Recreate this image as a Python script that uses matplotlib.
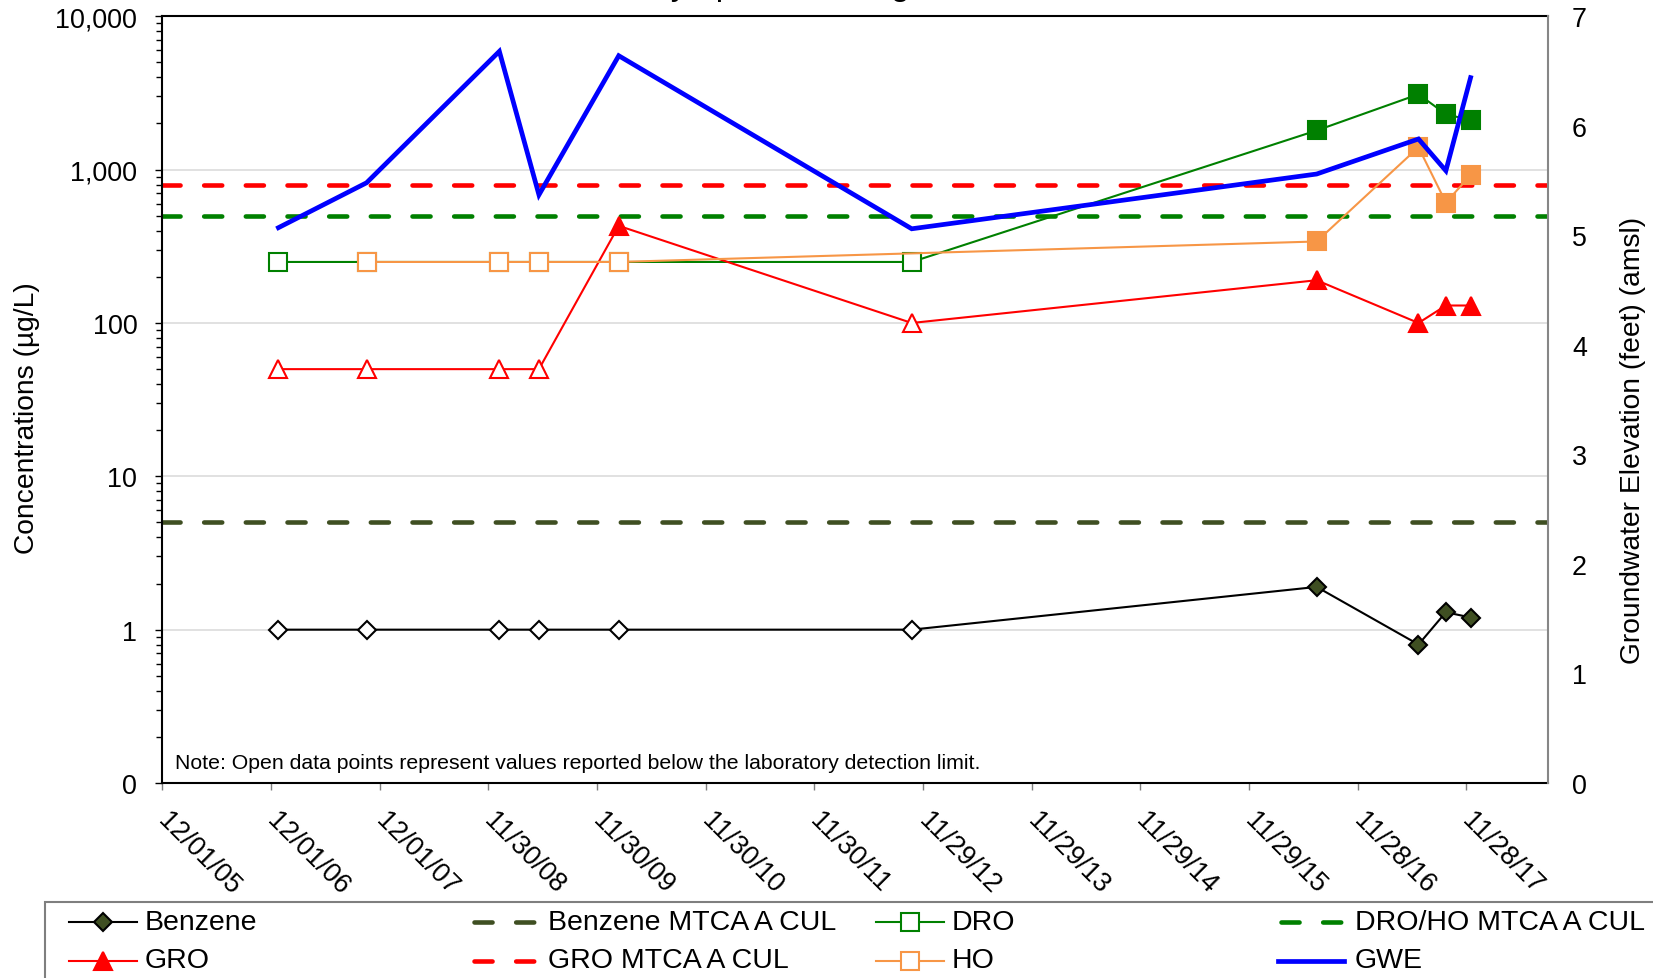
import numpy as np
import pandas as pd
import matplotlib
matplotlib.use('Agg')
import matplotlib.pyplot as plt
import matplotlib.dates as mdates
from matplotlib.lines import Line2D
from matplotlib.patches import Rectangle
from matplotlib.ticker import FixedLocator, FixedFormatter, LogLocator, NullFormatter

plt.rcParams['font.family'] = ['Liberation Sans', 'DejaVu Sans']
plt.rcParams['lines.scale_dashes'] = False

# ---------------- data ----------------
sample_dates = ['2006-12-26', '2007-10-18', '2009-01-06', '2009-05-19', '2010-02-11',
                '2012-10-22', '2016-07-13', '2017-06-20', '2017-09-20', '2017-12-12']
benzene = [1, 1, 1, 1, 1, 1, 1.9, 0.8, 1.3, 1.2]
benzene_nd = [True, True, True, True, True, True, False, False, False, False]
gro = [50, 50, 50, 50, 430, 100, 190, 100, 130, 130]
gro_nd = [True, True, True, True, False, True, False, False, False, False]
dro = [250, 250, 250, 250, 250, 250, 1800, 3100, 2300, 2100]
dro_nd = [True, True, True, True, True, True, False, False, False, False]
ho = [np.nan, 250, 250, 250, 250, np.nan, 340, 1400, 610, 920]
ho_nd = [False, True, True, True, True, False, False, False, False, False]
gwe = [5.07, 5.48, 6.68, 5.37, 6.64, 5.06, 5.56, 5.88, 5.59, 6.44]

benzene_cul = 5
gro_cul = 800
dro_ho_cul = 500

axis_start = '2005-12-01'
axis_days = 4655
tick_step_days = 365
n_ticks = 13

conc_ticks = [0.1, 1, 10, 100, 1000, 10000]
conc_labels = ['0', '1', '10', '100', '1,000', '10,000']
gwe_ticks = [0, 1, 2, 3, 4, 5, 6, 7]
gwe_labels = ['0', '1', '2', '3', '4', '5', '6', '7']

title_text = 'Olympia, Washington'
note_text = 'Note: Open data points represent values reported below the laboratory detection limit.'

# ---------------- colours ----------------
C_BENZ = '#3F4F22'
C_GREEN = '#008000'
C_RED = '#FF0000'
C_ORANGE = '#F79646'
C_BLUE = '#0000FF'

W, H = 1653, 979
fig = plt.figure(figsize=(W / 100, H / 100), dpi=100)
L, R, T, B = 162.3, 1548.3, 17.3, 784.0
ax = fig.add_axes([L / W, 1 - B / H, (R - L) / W, (B - T) / H])
ax2 = ax.twinx()

x = mdates.date2num(pd.to_datetime(sample_dates))
x0 = mdates.date2num(pd.Timestamp(axis_start))

FS_TICK = 19.4
FS_LAB = 20.3
FS_LEG = 20.5
DASH = (0, (13, 17))
CUL_LW = 3.3

# reference lines
for val, col in [(benzene_cul, C_BENZ), (dro_ho_cul, C_GREEN), (gro_cul, C_RED)]:
    ax.axhline(val, color=col, lw=CUL_LW, ls=DASH, dash_capstyle='round', zorder=2)


def series(axh, xv, yv, nd, color, marker, ms, face, edge, lw=1.5, mew=1.5, z=3):
    yv = np.asarray(yv, dtype=float)
    nd = np.asarray(nd, dtype=bool)
    m = ~np.isnan(yv)
    axh.plot(xv[m], yv[m], color=color, lw=lw, zorder=z)
    o = m & nd
    f = m & ~nd
    axh.plot(xv[o], yv[o], ls='none', marker=marker, ms=ms, mfc='white', mec=edge, mew=mew, zorder=z + 0.5)
    axh.plot(xv[f], yv[f], ls='none', marker=marker, ms=ms, mfc=face, mec=edge, mew=mew, zorder=z + 0.5)


series(ax, x, benzene, benzene_nd, 'black', 'D', 9, C_BENZ, 'black', z=3)
series(ax, x, dro, dro_nd, C_GREEN, 's', 12.5, C_GREEN, C_GREEN, z=4)
series(ax, x, gro, gro_nd, C_RED, '^', 12.5, C_RED, C_RED, z=5)
series(ax, x, ho, ho_nd, C_ORANGE, 's', 12.5, C_ORANGE, C_ORANGE, z=6)

ax2.plot(x, gwe, color=C_BLUE, lw=3.4, solid_joinstyle='miter', zorder=3)

# axes formatting
ax.set_yscale('log')
ax.set_ylim(conc_ticks[0], conc_ticks[-1])
ax.yaxis.set_major_locator(FixedLocator(conc_ticks))
ax.yaxis.set_major_formatter(FixedFormatter(conc_labels))
ax.yaxis.set_minor_locator(LogLocator(base=10, subs=np.arange(2, 10)))
ax.yaxis.set_minor_formatter(NullFormatter())
ax.set_xlim(x0, x0 + axis_days)
xt = [x0 + tick_step_days * k for k in range(n_ticks)]
ax.xaxis.set_major_locator(FixedLocator(xt))
ax.xaxis.set_major_formatter(mdates.DateFormatter('%m/%d/%y'))
ax.grid(axis='y', which='major', color='#D9D9D9', lw=1.1, zorder=0)
ax.set_axisbelow(True)

ax.tick_params(axis='y', which='major', direction='out', length=5, width=1, color='black',
               labelsize=FS_TICK, pad=13)
ax.tick_params(axis='y', which='minor', direction='out', length=4, width=1, color='black')
ax.tick_params(axis='x', which='major', direction='out', length=5, width=1, color='#7f7f7f',
               labelsize=FS_TICK, pad=19)
for lab in ax.get_xticklabels():
    lab.set_rotation(-45)
    lab.set_ha('left')
    lab.set_va('center')
    lab.set_rotation_mode('anchor')

ax2.set_ylim(gwe_ticks[0], gwe_ticks[-1])
ax2.yaxis.set_major_locator(FixedLocator(gwe_ticks))
ax2.yaxis.set_major_formatter(FixedFormatter(gwe_labels))
ax2.tick_params(axis='y', length=0, labelsize=FS_TICK, pad=17)

for s in ['top', 'bottom', 'left']:
    ax.spines[s].set_color('black')
    ax.spines[s].set_linewidth(1.5)
ax.spines['right'].set_visible(False)
for s in ['top', 'bottom', 'left']:
    ax2.spines[s].set_visible(False)
ax2.spines['right'].set_color('#868686')
ax2.spines['right'].set_linewidth(1.5)

# axis titles
fig.text(27 / W, 1 - 418 / H, 'Concentrations (µg/L)', rotation=90, ha='center', va='center',
         fontsize=FS_LAB)
fig.text(1633 / W, 1 - 440 / H, 'Groundwater Elevation (feet) (amsl)', rotation=90, ha='center',
         va='center', fontsize=FS_LAB)

# note
fig.text(175 / W, 1 - 769.3 / H, note_text, fontsize=15.35, ha='left', va='baseline')

# title (mostly cropped at the top edge: only descenders show)
fig.text(637 / W, 1 + 5 / H, title_text, fontsize=24.3, ha='left', va='baseline')

# ---------------- legend (manual layout) ----------------
fig.add_artist(Rectangle((45.3 / W, -0.2), 1.2, 0.2 + (1 - 903.3 / H), transform=fig.transFigure,
                         facecolor='white', edgecolor='#7f7f7f', lw=1.5, clip_on=False))

row_y = [923, 961.5]
col_x = [(68.5, 137, 144.4), (471, 538, 548), (876, 943.5, 952), (1277.7, 1344, 1354.6)]
entries = [
    (0, 0, 'Benzene', dict(color='black', lw=1.5), dict(marker='D', ms=9, mfc=C_BENZ, mec='black', mew=1.5)),
    (0, 1, 'Benzene MTCA A CUL', dict(color=C_BENZ, lw=CUL_LW, ls=DASH, dash_capstyle='round'), None),
    (0, 2, 'DRO', dict(color=C_GREEN, lw=1.5), dict(marker='s', ms=12.5, mfc='white', mec=C_GREEN, mew=1.5)),
    (0, 3, 'DRO/HO MTCA A CUL', dict(color=C_GREEN, lw=CUL_LW, ls=DASH, dash_capstyle='round'), None),
    (1, 0, 'GRO', dict(color=C_RED, lw=1.5), dict(marker='^', ms=12.5, mfc=C_RED, mec=C_RED, mew=1.5)),
    (1, 1, 'GRO MTCA A CUL', dict(color=C_RED, lw=CUL_LW, ls=DASH, dash_capstyle='round'), None),
    (1, 2, 'HO', dict(color=C_ORANGE, lw=1.5), dict(marker='s', ms=12.5, mfc='white', mec=C_ORANGE, mew=1.5)),
    (1, 3, 'GWE', dict(color=C_BLUE, lw=3.4), None),
]
for r, c, label, lkw, mkw in entries:
    xa, xb, xt_ = col_x[c]
    yy = 1 - row_y[r] / H
    if lkw.get('ls') is not None:
        xa_, xb_ = xa + 3, xb
    else:
        xa_, xb_ = xa, xb
    fig.add_artist(Line2D([xa_ / W, xb_ / W], [yy, yy], transform=fig.transFigure, **lkw))
    if mkw is not None:
        fig.add_artist(Line2D([(xa + xb) / 2 / W], [yy], transform=fig.transFigure, ls='none', **mkw))
    fig.text(xt_ / W, yy, label, fontsize=FS_LEG, ha='left', va='center')

fig.savefig('out.png', dpi=100)
